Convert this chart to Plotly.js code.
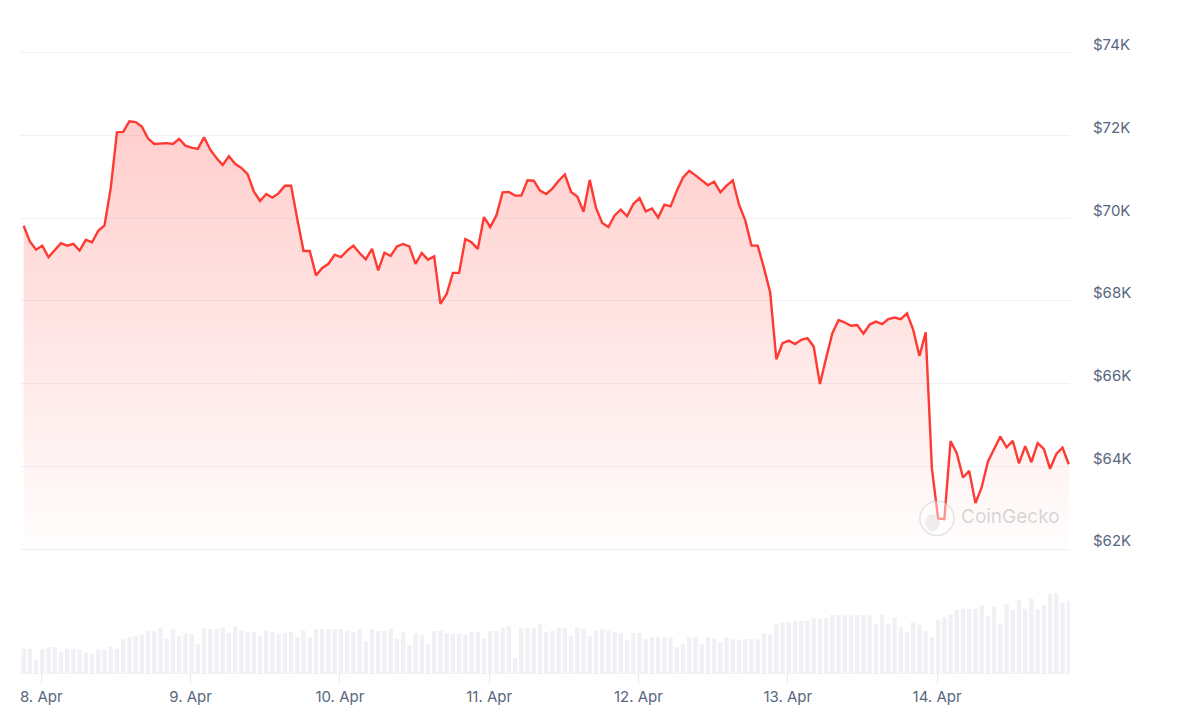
<!DOCTYPE html>
<html>
<head>
<meta charset="utf-8">
<script src="https://cdn.plot.ly/plotly-3.0.1.min.js"></script>
<style>
  html, body { margin: 0; padding: 0; background: #ffffff; }
  #chart { width: 1187px; height: 720px; }
</style>
</head>
<body>
<div id="chart"></div>
<script>
// ---- Data (hourly, 7 Apr 21:10 -> 14 Apr 21:10, 2024) ----
const START = '2024-04-07T21:10:00Z';
const STEP_HOURS = 1;

const price = [
  69820, 69440, 69240, 69340, 69060, 69220, 69400, 69340, 69380, 69220,
  69480, 69420, 69700, 69830, 70730, 72080, 72090, 72350, 72330, 72220,
  71930, 71800, 71810, 71820, 71800, 71920, 71760, 71710, 71680, 71960,
  71660, 71460, 71290, 71500, 71320, 71220, 71070, 70650, 70420, 70590,
  70500, 70610, 70790, 70790, 69970, 69210, 69210, 68620, 68800, 68900,
  69120, 69060, 69220, 69340, 69160, 69010, 69260, 68740, 69170, 69090,
  69320,
  69380, 69320, 68900, 69160, 69000, 69080, 67930, 68170, 68680, 68680,
  69500, 69420, 69260, 70030, 69790, 70070, 70630, 70640, 70550, 70550,
  70920, 70910, 70670, 70590, 70720, 70910, 71060, 70640, 70530, 70160,
  70930, 70260, 69890, 69790, 70070, 70210, 70050, 70350, 70490, 70170,
  70240, 70020, 70330, 70290, 70670, 70990, 71150, 71040, 70930, 70800,
  70890, 70630, 70790, 70920, 70330, 69950, 69340, 69340,
  68800, 68210, 66590, 66980, 67040, 66960, 67060, 67100, 66900, 65990,
  66620, 67220, 67540, 67480, 67400, 67420, 67210, 67430, 67500, 67440,
  67560, 67600, 67560, 67700, 67300, 66670, 67240, 63950, 62740, 62720,
  64610, 64320, 63730, 63890, 63110, 63490, 64110, 64410, 64720, 64460,
  64620, 64070, 64490, 64100, 64560, 64420, 63940, 64300, 64450, 64050
];

// total volume, billions USD
const volume = [
  14.6, 14.6, 8.0, 14.6, 15.6, 15.6, 12.4, 14.6, 14.6, 14.0,
  12.4, 11.6, 14.0, 14.0, 15.6, 14.6, 20.6, 21.6, 22.4, 23.0,
  25.0, 25.0, 27.0, 20.6, 26.4, 22.4, 24.0, 23.6, 17.4, 27.0,
  26.4, 26.4, 27.0, 24.0, 28.0, 25.4, 24.6, 24.6,
  22.4, 25.4, 24.6, 23.4, 24.0, 24.6, 21.4, 25.4, 21.4, 26.4,
  26.4, 26.4, 26.4, 26.4, 25.4, 24.6, 26.4, 19.0, 26.4, 25.4,
  25.4, 26.4, 20.6, 24.6, 16.6, 24.0, 23.0, 17.4, 25.4, 25.4,
  24.0, 23.6, 23.6, 23.0, 24.6, 24.6, 20.6, 25.4, 25.4, 27.0,
  28.0, 9.0, 27.0,
  27.0, 27.0, 29.6, 24.6, 25.4, 27.0, 27.0, 22.4,
  27.0, 26.4, 22.4, 25.4, 26.4, 25.4, 24.6, 24.0, 20.0, 24.0,
  24.0, 20.6, 21.4, 21.4, 21.4, 21.4, 15.4, 17.4, 21.4, 21.4,
  17.4, 21.4, 20.6, 18.6, 21.4, 20.6, 20.0, 20.6, 20.6, 20.6,
  24.0, 23.0, 29.0, 30.0, 30.6, 31.4, 31.4, 31.4, 33.0, 32.4,
  33.0, 35.0, 35.0, 35.0, 35.0, 35.0, 35.0, 35.0, 29.6, 35.0,
  29.6, 33.0, 27.4, 24.6, 30.6, 29.0, 25.4, 21.4, 32.0, 33.6,
  35.0, 38.0, 38.6, 38.6, 38.6, 40.6, 34.0, 40.0, 29.6, 41.6,
  38.0, 44.0, 38.6, 44.6, 38.0, 40.6, 47.6, 48.0, 42.0, 43.0
];

const priceTicks = [62000, 64000, 66000, 68000, 70000, 72000, 74000];
const priceTickLabels = ['$62K', '$64K', '$66K', '$68K', '$70K', '$72K', '$74K'];
const priceRange = [61950, 74050];
const xRange = ['2024-04-07 20:35', '2024-04-14 21:22'];
const watermark = 'CoinGecko';

// ---- Build ----
const t0 = Date.parse(START);
const times = price.map((_, i) => t0 + i * STEP_HOURS * 3600000);

const RED = '#ff3a33';
const LABEL = '#58667e';
const GRID = '#eff2f5';
const FONT = 'Inter, "Noto Sans", sans-serif';

const priceTrace = {
  type: 'scatter',
  mode: 'lines',
  x: times,
  y: price,
  xaxis: 'x',
  yaxis: 'y',
  line: { color: RED, width: 2.4 },
  fill: 'tozeroy',
  fillgradient: {
    type: 'vertical',
    start: 62000,
    stop: 72400,
    colorscale: [[0, 'rgba(255,58,51,0.01)'], [1, 'rgba(255,58,51,0.25)']]
  },
  hoverinfo: 'skip'
};

const volTrace = {
  type: 'bar',
  x: times,
  y: volume,
  xaxis: 'x',
  yaxis: 'y2',
  marker: { color: '#eff1f4', line: { width: 0 } },
  hoverinfo: 'skip'
};

const layout = {
  width: 1187,
  height: 720,
  margin: { l: 20, r: 117, t: 0, b: 47 },
  paper_bgcolor: '#ffffff',
  plot_bgcolor: 'rgba(0,0,0,0)',
  showlegend: false,
  bargap: 0.3,
  hovermode: false,
  font: { family: FONT, color: LABEL, size: 15 },
  xaxis: {
    type: 'date',
    anchor: 'y2',
    range: xRange,
    showgrid: false,
    zeroline: false,
    showline: true,
    linecolor: GRID,
    linewidth: 1,
    ticks: 'outside',
    ticklen: 10,
    tickwidth: 1,
    tickcolor: '#e6e9ee',
    tick0: '2024-04-08',
    dtick: 86400000,
    tickformat: '%-d. %b',
    tickfont: { size: 15, color: LABEL, family: FONT }
  },
  yaxis: {
    domain: [0.18117, 0.92433],
    range: priceRange,
    side: 'right',
    anchor: 'x',
    tickvals: priceTicks,
    ticktext: priceTickLabels,
    showgrid: true,
    gridcolor: GRID,
    gridwidth: 1,
    zeroline: false,
    showline: false,
    ticks: '',
    ticklabelstandoff: 22,
    ticklabelshift: -8,
    tickfont: { size: 15, color: LABEL, family: FONT }
  },
  yaxis2: {
    domain: [0, 0.13],
    range: [0, 52.5],
    anchor: 'x',
    showgrid: false,
    zeroline: false,
    showline: false,
    showticklabels: false,
    ticks: ''
  },
  shapes: [
    {
      type: 'circle', xref: 'paper', yref: 'paper', layer: 'above',
      x0: 0.8571, x1: 0.8895, y0: 0.2045, y1: 0.2551,
      fillcolor: 'rgba(255,255,255,0.45)',
      line: { color: 'rgba(200,200,200,0.45)', width: 1.5 }
    },
    {
      type: 'circle', xref: 'paper', yref: 'paper', layer: 'above',
      x0: 0.8620, x1: 0.8760, y0: 0.2100, y1: 0.2360,
      fillcolor: 'rgba(205,205,205,0.35)',
      line: { width: 0 }
    }
  ],
  annotations: [
    {
      text: watermark, xref: 'paper', yref: 'paper',
      x: 0.9429, y: 0.2318, xanchor: 'center', yanchor: 'middle',
      showarrow: false,
      font: { size: 19, color: 'rgba(175,175,175,0.5)', family: FONT }
    }
  ]
};

Plotly.newPlot('chart', [volTrace, priceTrace], layout, { displayModeBar: false, staticPlot: true });
</script>
</body>
</html>
